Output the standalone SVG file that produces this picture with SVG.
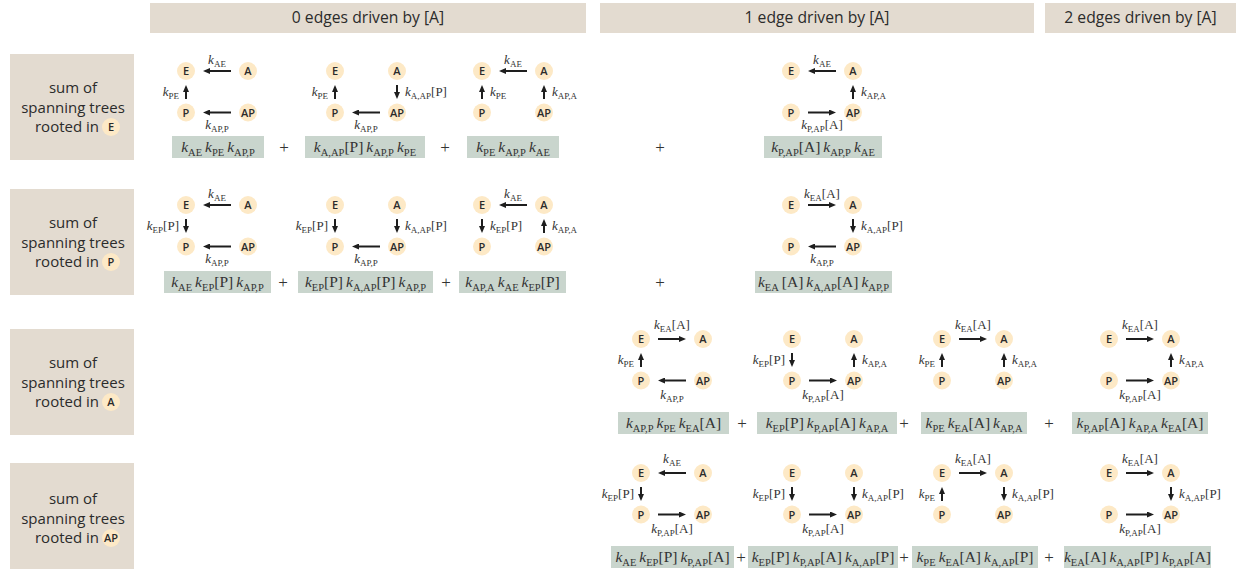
<svg xmlns="http://www.w3.org/2000/svg" width="1238" height="571" viewBox="0 0 1238 571">
<defs>
<style>
.hb{fill:#e3dbd0}
.ht{font-family:"Open Sans","DejaVu Sans",sans-serif;font-size:15px;fill:#2b2b2b;text-anchor:middle}
.hh{font-size:15.7px}
.nc{fill:#fde9c6}
.nt{font-family:"Open Sans","DejaVu Sans",sans-serif;font-size:11px;font-weight:600;fill:#2b2b2b;text-anchor:middle}
.fb{fill:#c9d5cd}
.m{font-family:"Liberation Serif","Times New Roman",serif;fill:#333}
.fm{font-size:15.5px;text-anchor:middle}
.fm .s{font-size:10.5px}
.lb{font-size:13px}
.lb .s{font-size:9px}
.k{font-style:italic}
.mid{text-anchor:middle}
.end{text-anchor:end}
.ed line{stroke:#1e1e1e;stroke-width:2;marker-end:url(#ah)}
.pl{font-family:"Liberation Serif",serif;font-size:17px;fill:#333;text-anchor:middle}
</style>
<marker id="ah" viewBox="0 0 7 6" refX="2" refY="3" markerWidth="7" markerHeight="6" markerUnits="userSpaceOnUse" orient="auto"><path d="M0,0 L7,3 L0,6 z" fill="#1e1e1e"/></marker>
</defs>
<rect width="1238" height="571" fill="#fff"/>

<g id="headers">
<g id="h0"><rect class="hb" x="150" y="3" width="436" height="30"/><text class="ht hh" x="368" y="23">0 edges driven by [A]</text></g>
<g id="h1"><rect class="hb" x="600" y="3" width="434" height="30"/><text class="ht hh" x="817" y="23">1 edge driven by [A]</text></g>
<g id="h2"><rect class="hb" x="1045" y="3" width="191" height="30"/><text class="ht hh" x="1140.5" y="23">2 edges driven by [A]</text></g>
</g>

<g id="rowlabels">
<g id="rlE"><rect class="hb" x="10" y="54" width="124" height="106"/><text class="ht" x="73" y="93">sum of</text><text class="ht" x="73" y="113">spanning trees</text><text class="ht end" x="99" y="132">rooted in</text><circle class="nc" cx="111" cy="127" r="9"/><text class="nt" x="111" y="131">E</text></g>
<g id="rlP"><rect class="hb" x="10" y="189" width="124" height="106"/><text class="ht" x="73" y="228">sum of</text><text class="ht" x="73" y="248">spanning trees</text><text class="ht end" x="99" y="267">rooted in</text><circle class="nc" cx="111" cy="262" r="9"/><text class="nt" x="111" y="266">P</text></g>
<g id="rlA"><rect class="hb" x="10" y="329" width="124" height="106"/><text class="ht" x="73" y="368">sum of</text><text class="ht" x="73" y="388">spanning trees</text><text class="ht end" x="99" y="407">rooted in</text><circle class="nc" cx="111" cy="402" r="9"/><text class="nt" x="111" y="406">A</text></g>
<g id="rlAP"><rect class="hb" x="10" y="463" width="124" height="106"/><text class="ht" x="73" y="504">sum of</text><text class="ht" x="73" y="524">spanning trees</text><text class="ht end" x="99" y="543">rooted in</text><circle class="nc" cx="111" cy="538" r="9"/><text class="nt" x="111" y="542">AP</text></g>
</g>

<!-- Row 1 -->
<g id="t1a"><g id="t1a-E"><circle class="nc" cx="186" cy="71" r="9"/><text class="nt" x="186" y="75">E</text></g><g id="t1a-A"><circle class="nc" cx="248" cy="71" r="9"/><text class="nt" x="248" y="75">A</text></g><g id="t1a-P"><circle class="nc" cx="186" cy="112.5" r="9"/><text class="nt" x="186" y="116.5">P</text></g><g id="t1a-AP"><circle class="nc" cx="248" cy="112.5" r="9"/><text class="nt" x="248" y="116.5">AP</text></g></g>
<g id="t1b"><g id="t1b-E"><circle class="nc" cx="335" cy="71" r="9"/><text class="nt" x="335" y="75">E</text></g><g id="t1b-A"><circle class="nc" cx="397" cy="71" r="9"/><text class="nt" x="397" y="75">A</text></g><g id="t1b-P"><circle class="nc" cx="335" cy="112.5" r="9"/><text class="nt" x="335" y="116.5">P</text></g><g id="t1b-AP"><circle class="nc" cx="397" cy="112.5" r="9"/><text class="nt" x="397" y="116.5">AP</text></g></g>
<g id="t1c"><g id="t1c-E"><circle class="nc" cx="482" cy="71" r="9"/><text class="nt" x="482" y="75">E</text></g><g id="t1c-A"><circle class="nc" cx="544" cy="71" r="9"/><text class="nt" x="544" y="75">A</text></g><g id="t1c-P"><circle class="nc" cx="482" cy="112.5" r="9"/><text class="nt" x="482" y="116.5">P</text></g><g id="t1c-AP"><circle class="nc" cx="544" cy="112.5" r="9"/><text class="nt" x="544" y="116.5">AP</text></g></g>
<g id="t1d"><g id="t1d-E"><circle class="nc" cx="791" cy="71" r="9"/><text class="nt" x="791" y="75">E</text></g><g id="t1d-A"><circle class="nc" cx="853" cy="71" r="9"/><text class="nt" x="853" y="75">A</text></g><g id="t1d-P"><circle class="nc" cx="791" cy="112.5" r="9"/><text class="nt" x="791" y="116.5">P</text></g><g id="t1d-AP"><circle class="nc" cx="853" cy="112.5" r="9"/><text class="nt" x="853" y="116.5">AP</text></g></g>

<!-- Row 2 -->
<g id="t2a"><g id="t2a-E"><circle class="nc" cx="186" cy="205" r="9"/><text class="nt" x="186" y="209">E</text></g><g id="t2a-A"><circle class="nc" cx="248" cy="205" r="9"/><text class="nt" x="248" y="209">A</text></g><g id="t2a-P"><circle class="nc" cx="186" cy="246.5" r="9"/><text class="nt" x="186" y="250.5">P</text></g><g id="t2a-AP"><circle class="nc" cx="248" cy="246.5" r="9"/><text class="nt" x="248" y="250.5">AP</text></g></g>
<g id="t2b"><g id="t2b-E"><circle class="nc" cx="335" cy="205" r="9"/><text class="nt" x="335" y="209">E</text></g><g id="t2b-A"><circle class="nc" cx="397" cy="205" r="9"/><text class="nt" x="397" y="209">A</text></g><g id="t2b-P"><circle class="nc" cx="335" cy="246.5" r="9"/><text class="nt" x="335" y="250.5">P</text></g><g id="t2b-AP"><circle class="nc" cx="397" cy="246.5" r="9"/><text class="nt" x="397" y="250.5">AP</text></g></g>
<g id="t2c"><g id="t2c-E"><circle class="nc" cx="482" cy="205" r="9"/><text class="nt" x="482" y="209">E</text></g><g id="t2c-A"><circle class="nc" cx="544" cy="205" r="9"/><text class="nt" x="544" y="209">A</text></g><g id="t2c-P"><circle class="nc" cx="482" cy="246.5" r="9"/><text class="nt" x="482" y="250.5">P</text></g><g id="t2c-AP"><circle class="nc" cx="544" cy="246.5" r="9"/><text class="nt" x="544" y="250.5">AP</text></g></g>
<g id="t2d"><g id="t2d-E"><circle class="nc" cx="791" cy="205" r="9"/><text class="nt" x="791" y="209">E</text></g><g id="t2d-A"><circle class="nc" cx="853" cy="205" r="9"/><text class="nt" x="853" y="209">A</text></g><g id="t2d-P"><circle class="nc" cx="791" cy="246.5" r="9"/><text class="nt" x="791" y="250.5">P</text></g><g id="t2d-AP"><circle class="nc" cx="853" cy="246.5" r="9"/><text class="nt" x="853" y="250.5">AP</text></g></g>

<!-- Row 3 -->
<g id="t3a"><g id="t3a-E"><circle class="nc" cx="641" cy="339" r="9"/><text class="nt" x="641" y="343">E</text></g><g id="t3a-A"><circle class="nc" cx="703" cy="339" r="9"/><text class="nt" x="703" y="343">A</text></g><g id="t3a-P"><circle class="nc" cx="641" cy="380.5" r="9"/><text class="nt" x="641" y="384.5">P</text></g><g id="t3a-AP"><circle class="nc" cx="703" cy="380.5" r="9"/><text class="nt" x="703" y="384.5">AP</text></g></g>
<g id="t3b"><g id="t3b-E"><circle class="nc" cx="792" cy="339" r="9"/><text class="nt" x="792" y="343">E</text></g><g id="t3b-A"><circle class="nc" cx="854" cy="339" r="9"/><text class="nt" x="854" y="343">A</text></g><g id="t3b-P"><circle class="nc" cx="792" cy="380.5" r="9"/><text class="nt" x="792" y="384.5">P</text></g><g id="t3b-AP"><circle class="nc" cx="854" cy="380.5" r="9"/><text class="nt" x="854" y="384.5">AP</text></g></g>
<g id="t3c"><g id="t3c-E"><circle class="nc" cx="942" cy="339" r="9"/><text class="nt" x="942" y="343">E</text></g><g id="t3c-A"><circle class="nc" cx="1004" cy="339" r="9"/><text class="nt" x="1004" y="343">A</text></g><g id="t3c-P"><circle class="nc" cx="942" cy="380.5" r="9"/><text class="nt" x="942" y="384.5">P</text></g><g id="t3c-AP"><circle class="nc" cx="1004" cy="380.5" r="9"/><text class="nt" x="1004" y="384.5">AP</text></g></g>
<g id="t3d"><g id="t3d-E"><circle class="nc" cx="1109" cy="339" r="9"/><text class="nt" x="1109" y="343">E</text></g><g id="t3d-A"><circle class="nc" cx="1171" cy="339" r="9"/><text class="nt" x="1171" y="343">A</text></g><g id="t3d-P"><circle class="nc" cx="1109" cy="380.5" r="9"/><text class="nt" x="1109" y="384.5">P</text></g><g id="t3d-AP"><circle class="nc" cx="1171" cy="380.5" r="9"/><text class="nt" x="1171" y="384.5">AP</text></g></g>

<!-- Row 4 -->
<g id="t4a"><g id="t4a-E"><circle class="nc" cx="641" cy="473" r="9"/><text class="nt" x="641" y="477">E</text></g><g id="t4a-A"><circle class="nc" cx="703" cy="473" r="9"/><text class="nt" x="703" y="477">A</text></g><g id="t4a-P"><circle class="nc" cx="641" cy="514.5" r="9"/><text class="nt" x="641" y="518.5">P</text></g><g id="t4a-AP"><circle class="nc" cx="703" cy="514.5" r="9"/><text class="nt" x="703" y="518.5">AP</text></g></g>
<g id="t4b"><g id="t4b-E"><circle class="nc" cx="792" cy="473" r="9"/><text class="nt" x="792" y="477">E</text></g><g id="t4b-A"><circle class="nc" cx="854" cy="473" r="9"/><text class="nt" x="854" y="477">A</text></g><g id="t4b-P"><circle class="nc" cx="792" cy="514.5" r="9"/><text class="nt" x="792" y="518.5">P</text></g><g id="t4b-AP"><circle class="nc" cx="854" cy="514.5" r="9"/><text class="nt" x="854" y="518.5">AP</text></g></g>
<g id="t4c"><g id="t4c-E"><circle class="nc" cx="942" cy="473" r="9"/><text class="nt" x="942" y="477">E</text></g><g id="t4c-A"><circle class="nc" cx="1004" cy="473" r="9"/><text class="nt" x="1004" y="477">A</text></g><g id="t4c-P"><circle class="nc" cx="942" cy="514.5" r="9"/><text class="nt" x="942" y="518.5">P</text></g><g id="t4c-AP"><circle class="nc" cx="1004" cy="514.5" r="9"/><text class="nt" x="1004" y="518.5">AP</text></g></g>
<g id="t4d"><g id="t4d-E"><circle class="nc" cx="1109" cy="473" r="9"/><text class="nt" x="1109" y="477">E</text></g><g id="t4d-A"><circle class="nc" cx="1171" cy="473" r="9"/><text class="nt" x="1171" y="477">A</text></g><g id="t4d-P"><circle class="nc" cx="1109" cy="514.5" r="9"/><text class="nt" x="1109" y="518.5">P</text></g><g id="t4d-AP"><circle class="nc" cx="1171" cy="514.5" r="9"/><text class="nt" x="1171" y="518.5">AP</text></g></g>

<g id="connectors" class="ed">
<line x1="231" y1="71" x2="208" y2="71"/><line x1="186" y1="99" x2="186" y2="90"/><line x1="231" y1="112.5" x2="208" y2="112.5"/>
<line x1="335" y1="99" x2="335" y2="90"/><line x1="397" y1="85" x2="397" y2="94"/><line x1="380" y1="112.5" x2="357" y2="112.5"/>
<line x1="527" y1="71" x2="504" y2="71"/><line x1="482" y1="99" x2="482" y2="90"/><line x1="544" y1="99" x2="544" y2="90"/>
<line x1="836" y1="71" x2="813" y2="71"/><line x1="853" y1="99" x2="853" y2="90"/><line x1="808" y1="112.5" x2="831" y2="112.5"/>

<line x1="231" y1="205" x2="208" y2="205"/><line x1="186" y1="219" x2="186" y2="228"/><line x1="231" y1="246.5" x2="208" y2="246.5"/>
<line x1="335" y1="219" x2="335" y2="228"/><line x1="397" y1="219" x2="397" y2="228"/><line x1="380" y1="246.5" x2="357" y2="246.5"/>
<line x1="527" y1="205" x2="504" y2="205"/><line x1="482" y1="219" x2="482" y2="228"/><line x1="544" y1="233" x2="544" y2="224"/>
<line x1="808" y1="205" x2="831" y2="205"/><line x1="853" y1="219" x2="853" y2="228"/><line x1="836" y1="246.5" x2="813" y2="246.5"/>

<line x1="658" y1="339" x2="681" y2="339"/><line x1="641" y1="367" x2="641" y2="358"/><line x1="686" y1="380.5" x2="663" y2="380.5"/>
<line x1="792" y1="353" x2="792" y2="362"/><line x1="854" y1="367" x2="854" y2="358"/><line x1="809" y1="380.5" x2="832" y2="380.5"/>
<line x1="959" y1="339" x2="982" y2="339"/><line x1="942" y1="367" x2="942" y2="358"/><line x1="1004" y1="367" x2="1004" y2="358"/>
<line x1="1126" y1="339" x2="1149" y2="339"/><line x1="1171" y1="367" x2="1171" y2="358"/><line x1="1126" y1="380.5" x2="1149" y2="380.5"/>

<line x1="686" y1="473" x2="663" y2="473"/><line x1="641" y1="487" x2="641" y2="496"/><line x1="658" y1="514.5" x2="681" y2="514.5"/>
<line x1="792" y1="487" x2="792" y2="496"/><line x1="854" y1="487" x2="854" y2="496"/><line x1="809" y1="514.5" x2="832" y2="514.5"/>
<line x1="959" y1="473" x2="982" y2="473"/><line x1="942" y1="501" x2="942" y2="492"/><line x1="1004" y1="487" x2="1004" y2="496"/>
<line x1="1126" y1="473" x2="1149" y2="473"/><line x1="1171" y1="487" x2="1171" y2="496"/><line x1="1126" y1="514.5" x2="1149" y2="514.5"/>
</g>

<g id="edge-labels" class="m lb">
<!-- row 1 -->
<text class="mid" x="217" y="64"><tspan class="k">k</tspan><tspan class="s" dy="3">AE</tspan></text>
<text class="end" x="179" y="96"><tspan class="k">k</tspan><tspan class="s" dy="3">PE</tspan></text>
<text class="mid" x="217" y="129"><tspan class="k">k</tspan><tspan class="s" dy="3">AP,P</tspan></text>
<text class="end" x="328" y="96"><tspan class="k">k</tspan><tspan class="s" dy="3">PE</tspan></text>
<text x="405" y="96"><tspan class="k">k</tspan><tspan class="s" dy="3">A,AP</tspan><tspan dy="-3">[P]</tspan></text>
<text class="mid" x="366" y="129"><tspan class="k">k</tspan><tspan class="s" dy="3">AP,P</tspan></text>
<text class="mid" x="513" y="64"><tspan class="k">k</tspan><tspan class="s" dy="3">AE</tspan></text>
<text x="490" y="96"><tspan class="k">k</tspan><tspan class="s" dy="3">PE</tspan></text>
<text x="552" y="96"><tspan class="k">k</tspan><tspan class="s" dy="3">AP,A</tspan></text>
<text class="mid" x="822" y="64"><tspan class="k">k</tspan><tspan class="s" dy="3">AE</tspan></text>
<text x="861" y="96"><tspan class="k">k</tspan><tspan class="s" dy="3">AP,A</tspan></text>
<text class="mid" x="822" y="129"><tspan class="k">k</tspan><tspan class="s" dy="3">P,AP</tspan><tspan dy="-3">[A]</tspan></text>
<!-- row 2 -->
<text class="mid" x="217" y="198"><tspan class="k">k</tspan><tspan class="s" dy="3">AE</tspan></text>
<text class="end" x="179" y="230"><tspan class="k">k</tspan><tspan class="s" dy="3">EP</tspan><tspan dy="-3">[P]</tspan></text>
<text class="mid" x="217" y="263"><tspan class="k">k</tspan><tspan class="s" dy="3">AP,P</tspan></text>
<text class="end" x="328" y="230"><tspan class="k">k</tspan><tspan class="s" dy="3">EP</tspan><tspan dy="-3">[P]</tspan></text>
<text x="405" y="230"><tspan class="k">k</tspan><tspan class="s" dy="3">A,AP</tspan><tspan dy="-3">[P]</tspan></text>
<text class="mid" x="366" y="263"><tspan class="k">k</tspan><tspan class="s" dy="3">AP,P</tspan></text>
<text class="mid" x="513" y="198"><tspan class="k">k</tspan><tspan class="s" dy="3">AE</tspan></text>
<text x="490" y="230"><tspan class="k">k</tspan><tspan class="s" dy="3">EP</tspan><tspan dy="-3">[P]</tspan></text>
<text x="552" y="230"><tspan class="k">k</tspan><tspan class="s" dy="3">AP,A</tspan></text>
<text class="mid" x="822" y="198"><tspan class="k">k</tspan><tspan class="s" dy="3">EA</tspan><tspan dy="-3">[A]</tspan></text>
<text x="861" y="230"><tspan class="k">k</tspan><tspan class="s" dy="3">A,AP</tspan><tspan dy="-3">[P]</tspan></text>
<text class="mid" x="822" y="263"><tspan class="k">k</tspan><tspan class="s" dy="3">AP,P</tspan></text>
<!-- row 3 -->
<text class="mid" x="672" y="329"><tspan class="k">k</tspan><tspan class="s" dy="3">EA</tspan><tspan dy="-3">[A]</tspan></text>
<text class="end" x="634" y="364"><tspan class="k">k</tspan><tspan class="s" dy="3">PE</tspan></text>
<text class="mid" x="672" y="399"><tspan class="k">k</tspan><tspan class="s" dy="3">AP,P</tspan></text>
<text class="end" x="785" y="364"><tspan class="k">k</tspan><tspan class="s" dy="3">EP</tspan><tspan dy="-3">[P]</tspan></text>
<text x="862" y="364"><tspan class="k">k</tspan><tspan class="s" dy="3">AP,A</tspan></text>
<text class="mid" x="823" y="399"><tspan class="k">k</tspan><tspan class="s" dy="3">P,AP</tspan><tspan dy="-3">[A]</tspan></text>
<text class="mid" x="973" y="329"><tspan class="k">k</tspan><tspan class="s" dy="3">EA</tspan><tspan dy="-3">[A]</tspan></text>
<text class="end" x="935" y="364"><tspan class="k">k</tspan><tspan class="s" dy="3">PE</tspan></text>
<text x="1012" y="364"><tspan class="k">k</tspan><tspan class="s" dy="3">AP,A</tspan></text>
<text class="mid" x="1140" y="329"><tspan class="k">k</tspan><tspan class="s" dy="3">EA</tspan><tspan dy="-3">[A]</tspan></text>
<text x="1179" y="364"><tspan class="k">k</tspan><tspan class="s" dy="3">AP,A</tspan></text>
<text class="mid" x="1140" y="399"><tspan class="k">k</tspan><tspan class="s" dy="3">P,AP</tspan><tspan dy="-3">[A]</tspan></text>
<!-- row 4 -->
<text class="mid" x="672" y="463"><tspan class="k">k</tspan><tspan class="s" dy="3">AE</tspan></text>
<text class="end" x="634" y="498"><tspan class="k">k</tspan><tspan class="s" dy="3">EP</tspan><tspan dy="-3">[P]</tspan></text>
<text class="mid" x="672" y="533"><tspan class="k">k</tspan><tspan class="s" dy="3">P,AP</tspan><tspan dy="-3">[A]</tspan></text>
<text class="end" x="785" y="498"><tspan class="k">k</tspan><tspan class="s" dy="3">EP</tspan><tspan dy="-3">[P]</tspan></text>
<text x="862" y="498"><tspan class="k">k</tspan><tspan class="s" dy="3">A,AP</tspan><tspan dy="-3">[P]</tspan></text>
<text class="mid" x="823" y="533"><tspan class="k">k</tspan><tspan class="s" dy="3">P,AP</tspan><tspan dy="-3">[A]</tspan></text>
<text class="mid" x="973" y="463"><tspan class="k">k</tspan><tspan class="s" dy="3">EA</tspan><tspan dy="-3">[A]</tspan></text>
<text class="end" x="935" y="498"><tspan class="k">k</tspan><tspan class="s" dy="3">PE</tspan></text>
<text x="1012" y="498"><tspan class="k">k</tspan><tspan class="s" dy="3">A,AP</tspan><tspan dy="-3">[P]</tspan></text>
<text class="mid" x="1140" y="463"><tspan class="k">k</tspan><tspan class="s" dy="3">EA</tspan><tspan dy="-3">[A]</tspan></text>
<text x="1179" y="498"><tspan class="k">k</tspan><tspan class="s" dy="3">A,AP</tspan><tspan dy="-3">[P]</tspan></text>
<text class="mid" x="1140" y="533"><tspan class="k">k</tspan><tspan class="s" dy="3">P,AP</tspan><tspan dy="-3">[A]</tspan></text>
</g>

<g id="formulas">
<rect class="fb" x="172" y="136" width="92" height="22"/>
<rect class="fb" x="305" y="136" width="120" height="22"/>
<rect class="fb" x="467" y="136" width="92" height="22"/>
<rect class="fb" x="764" y="136" width="118" height="22"/>
<rect class="fb" x="164" y="271" width="107" height="22"/>
<rect class="fb" x="298" y="271" width="135" height="22"/>
<rect class="fb" x="459" y="271" width="107" height="22"/>
<rect class="fb" x="755" y="271" width="137" height="22"/>
<rect class="fb" x="618" y="412" width="111" height="22"/>
<rect class="fb" x="757" y="412" width="140" height="22"/>
<rect class="fb" x="921" y="412" width="106" height="22"/>
<rect class="fb" x="1072" y="412" width="136" height="22"/>
<rect class="fb" x="611" y="546" width="123" height="22"/>
<rect class="fb" x="748" y="546" width="150" height="22"/>
<rect class="fb" x="912" y="546" width="126" height="22"/>
<rect class="fb" x="1064" y="546" width="147" height="22"/>
<g class="m fm">
<text x="218" y="152"><tspan class="k">k</tspan><tspan class="s" dy="4">AE</tspan><tspan class="k" dx="3" dy="-4">k</tspan><tspan class="s" dy="4">PE</tspan><tspan class="k" dx="3" dy="-4">k</tspan><tspan class="s" dy="4">AP,P</tspan></text>
<text x="365" y="152"><tspan class="k">k</tspan><tspan class="s" dy="4">A,AP</tspan><tspan dy="-4">[P]</tspan><tspan class="k" dx="3">k</tspan><tspan class="s" dy="4">AP,P</tspan><tspan class="k" dx="3" dy="-4">k</tspan><tspan class="s" dy="4">PE</tspan></text>
<text x="513" y="152"><tspan class="k">k</tspan><tspan class="s" dy="4">PE</tspan><tspan class="k" dx="3" dy="-4">k</tspan><tspan class="s" dy="4">AP,P</tspan><tspan class="k" dx="3" dy="-4">k</tspan><tspan class="s" dy="4">AE</tspan></text>
<text x="823" y="152"><tspan class="k">k</tspan><tspan class="s" dy="4">P,AP</tspan><tspan dy="-4">[A]</tspan><tspan class="k" dx="3">k</tspan><tspan class="s" dy="4">AP,P</tspan><tspan class="k" dx="3" dy="-4">k</tspan><tspan class="s" dy="4">AE</tspan></text>

<text x="217.5" y="287"><tspan class="k">k</tspan><tspan class="s" dy="4">AE</tspan><tspan class="k" dx="3" dy="-4">k</tspan><tspan class="s" dy="4">EP</tspan><tspan dy="-4">[P]</tspan><tspan class="k" dx="3">k</tspan><tspan class="s" dy="4">AP,P</tspan></text>
<text x="365.5" y="287"><tspan class="k">k</tspan><tspan class="s" dy="4">EP</tspan><tspan dy="-4">[P]</tspan><tspan class="k" dx="3">k</tspan><tspan class="s" dy="4">A,AP</tspan><tspan dy="-4">[P]</tspan><tspan class="k" dx="3">k</tspan><tspan class="s" dy="4">AP,P</tspan></text>
<text x="512.5" y="287"><tspan class="k">k</tspan><tspan class="s" dy="4">AP,A</tspan><tspan class="k" dx="3" dy="-4">k</tspan><tspan class="s" dy="4">AE</tspan><tspan class="k" dx="3" dy="-4">k</tspan><tspan class="s" dy="4">EP</tspan><tspan dy="-4">[P]</tspan></text>
<text x="823.5" y="287"><tspan class="k">k</tspan><tspan class="s" dy="4">EA</tspan><tspan dx="3" dy="-4">[A]</tspan><tspan class="k" dx="3">k</tspan><tspan class="s" dy="4">A,AP</tspan><tspan dy="-4">[A]</tspan><tspan class="k" dx="3">k</tspan><tspan class="s" dy="4">AP,P</tspan></text>

<text x="673.5" y="428"><tspan class="k">k</tspan><tspan class="s" dy="4">AP,P</tspan><tspan class="k" dx="3" dy="-4">k</tspan><tspan class="s" dy="4">PE</tspan><tspan class="k" dx="3" dy="-4">k</tspan><tspan class="s" dy="4">EA</tspan><tspan dy="-4">[A]</tspan></text>
<text x="827" y="428"><tspan class="k">k</tspan><tspan class="s" dy="4">EP</tspan><tspan dy="-4">[P]</tspan><tspan class="k" dx="3">k</tspan><tspan class="s" dy="4">P,AP</tspan><tspan dy="-4">[A]</tspan><tspan class="k" dx="3">k</tspan><tspan class="s" dy="4">AP,A</tspan></text>
<text x="974" y="428"><tspan class="k">k</tspan><tspan class="s" dy="4">PE</tspan><tspan class="k" dx="3" dy="-4">k</tspan><tspan class="s" dy="4">EA</tspan><tspan dy="-4">[A]</tspan><tspan class="k" dx="3">k</tspan><tspan class="s" dy="4">AP,A</tspan></text>
<text x="1140" y="428"><tspan class="k">k</tspan><tspan class="s" dy="4">P,AP</tspan><tspan dy="-4">[A]</tspan><tspan class="k" dx="3">k</tspan><tspan class="s" dy="4">AP,A</tspan><tspan class="k" dx="3" dy="-4">k</tspan><tspan class="s" dy="4">EA</tspan><tspan dy="-4">[A]</tspan></text>

<text x="672.5" y="562"><tspan class="k">k</tspan><tspan class="s" dy="4">AE</tspan><tspan class="k" dx="3" dy="-4">k</tspan><tspan class="s" dy="4">EP</tspan><tspan dy="-4">[P]</tspan><tspan class="k" dx="3">k</tspan><tspan class="s" dy="4">P,AP</tspan><tspan dy="-4">[A]</tspan></text>
<text x="823" y="562"><tspan class="k">k</tspan><tspan class="s" dy="4">EP</tspan><tspan dy="-4">[P]</tspan><tspan class="k" dx="3">k</tspan><tspan class="s" dy="4">P,AP</tspan><tspan dy="-4">[A]</tspan><tspan class="k" dx="3">k</tspan><tspan class="s" dy="4">A,AP</tspan><tspan dy="-4">[P]</tspan></text>
<text x="975" y="562"><tspan class="k">k</tspan><tspan class="s" dy="4">PE</tspan><tspan class="k" dx="3" dy="-4">k</tspan><tspan class="s" dy="4">EA</tspan><tspan dy="-4">[A]</tspan><tspan class="k" dx="3">k</tspan><tspan class="s" dy="4">A,AP</tspan><tspan dy="-4">[P]</tspan></text>
<text x="1137.5" y="562"><tspan class="k">k</tspan><tspan class="s" dy="4">EA</tspan><tspan dy="-4">[A]</tspan><tspan class="k" dx="3">k</tspan><tspan class="s" dy="4">A,AP</tspan><tspan dy="-4">[P]</tspan><tspan class="k" dx="3">k</tspan><tspan class="s" dy="4">P,AP</tspan><tspan dy="-4">[A]</tspan></text>
</g>
</g>

<g id="plus-signs" class="pl">
<text x="284" y="153">+</text><text x="445" y="153">+</text><text x="660" y="153">+</text>
<text x="283" y="288">+</text><text x="446" y="288">+</text><text x="660" y="288">+</text>
<text x="742" y="429">+</text><text x="904" y="429">+</text><text x="1049" y="429">+</text>
<text x="741" y="563">+</text><text x="904" y="563">+</text><text x="1049" y="563">+</text>
</g>
</svg>
